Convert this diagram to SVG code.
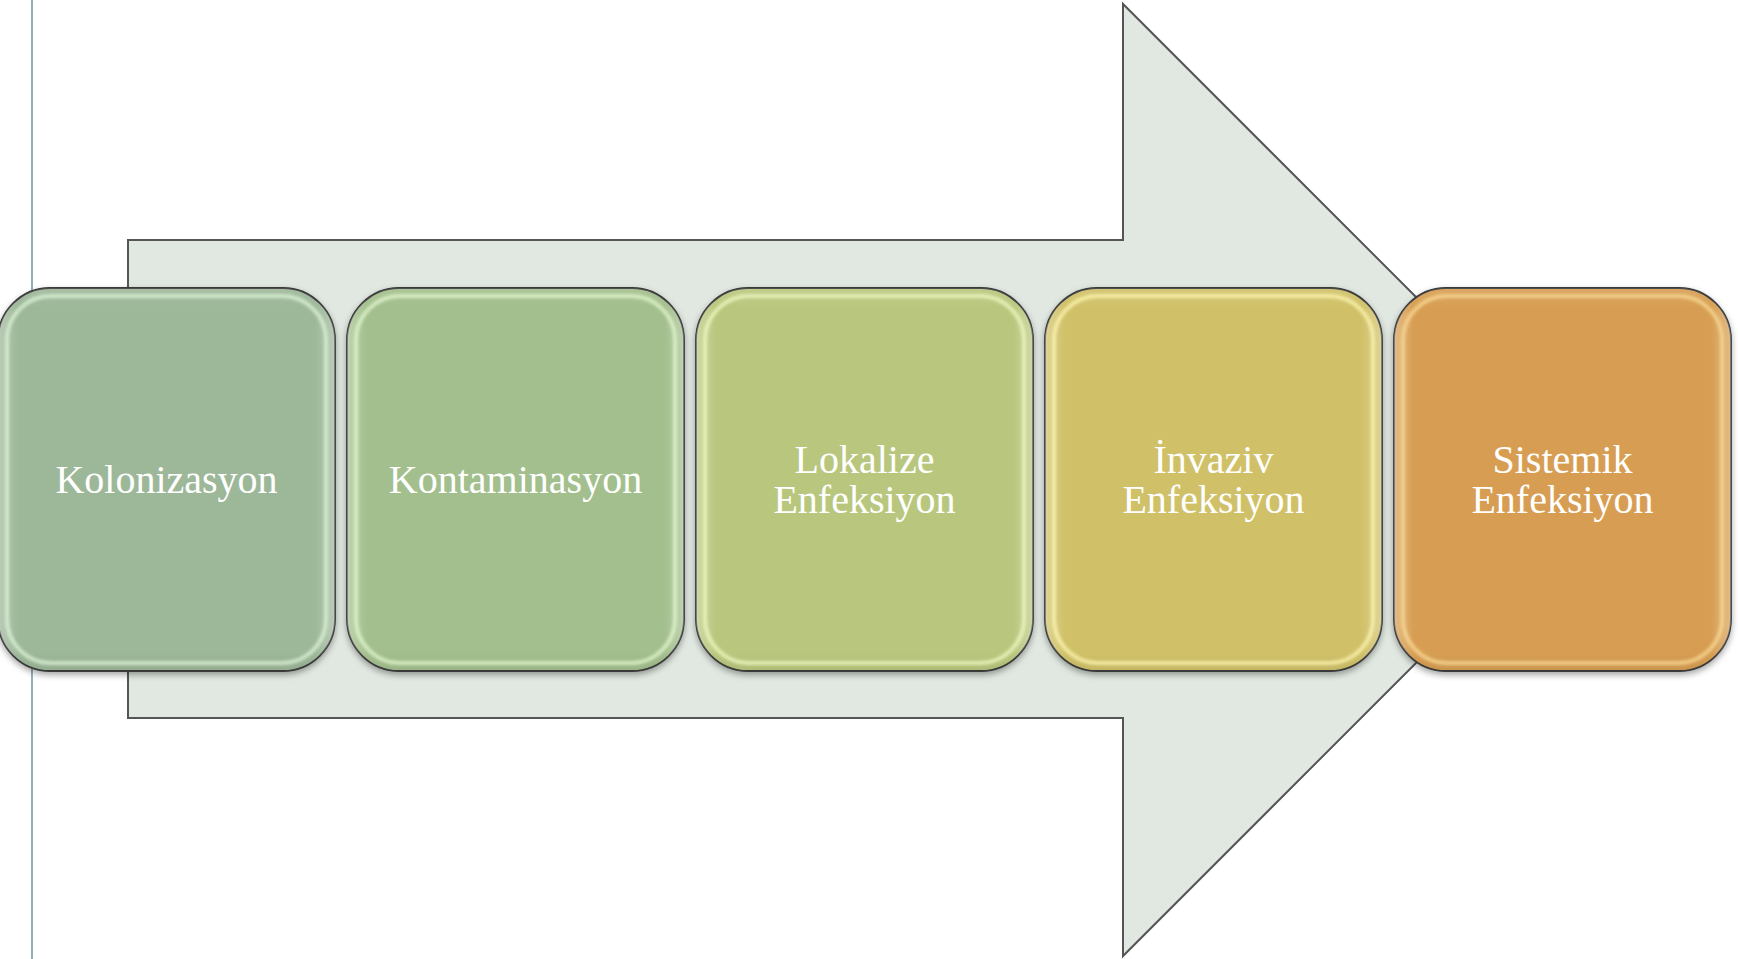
<svg xmlns="http://www.w3.org/2000/svg" width="1738" height="959" viewBox="0 0 1738 959">
<style>
.box{stroke:#3a3a3a;stroke-width:1.8}
.hl{fill:none;stroke-width:4;opacity:0.75}
.lbl{font-family:"Liberation Serif","Times New Roman",serif;font-size:40px;fill:#ffffff;text-anchor:middle}
</style>
<defs>
<filter id="sh" x="-5%" y="-5%" width="110%" height="112%">
<feDropShadow dx="0" dy="3" stdDeviation="3" flood-color="#000" flood-opacity="0.35"/>
</filter>
<filter id="bl" x="-5%" y="-5%" width="110%" height="110%">
<feGaussianBlur stdDeviation="1.5"/>
</filter>
<linearGradient id="gl" x1="0" y1="0" x2="1" y2="0">
<stop offset="0" stop-color="#fff" stop-opacity="0.3"/>
<stop offset="0.06" stop-color="#fff" stop-opacity="0"/>
<stop offset="0.94" stop-color="#fff" stop-opacity="0"/>
<stop offset="1" stop-color="#fff" stop-opacity="0.3"/>
</linearGradient>
<linearGradient id="gv" x1="0" y1="0" x2="0" y2="1">
<stop offset="0" stop-color="#fff" stop-opacity="0.1"/>
<stop offset="0.05" stop-color="#fff" stop-opacity="0"/>
<stop offset="0.95" stop-color="#000" stop-opacity="0"/>
<stop offset="1" stop-color="#000" stop-opacity="0.06"/>
</linearGradient>
</defs>
<rect width="1738" height="959" fill="#ffffff"/>
<line x1="32" y1="0" x2="32" y2="959" stroke="#6a99a2" stroke-width="1.5"/>
<g id="connectors">
<polygon id="arrow" points="128,240 1123,240 1123,4 1599,480 1123,956 1123,718 128,718" fill="#e1e8e1" stroke="#555555" stroke-width="2"/>
</g>
<g id="node1">
<rect class="box" x="-2" y="288" width="337" height="383" rx="52" fill="#9db799" filter="url(#sh)"/>
<rect x="-2" y="288" width="337" height="383" rx="52" fill="url(#gl)"/>
<rect x="-2" y="288" width="337" height="383" rx="52" fill="url(#gv)"/>
<rect class="hl" x="7" y="296" width="319" height="367" rx="44" stroke="#dff5d8" filter="url(#bl)"/>
<text class="lbl" x="166.5" y="493">Kolonizasyon</text>
</g>
<g id="node2">
<rect class="box" x="347" y="288" width="337" height="383" rx="52" fill="#a3bf8d" filter="url(#sh)"/>
<rect x="347" y="288" width="337" height="383" rx="52" fill="url(#gl)"/>
<rect x="347" y="288" width="337" height="383" rx="52" fill="url(#gv)"/>
<rect class="hl" x="356" y="296" width="319" height="367" rx="44" stroke="#e4f8d0" filter="url(#bl)"/>
<text class="lbl" x="515.5" y="493">Kontaminasyon</text>
</g>
<g id="node3">
<rect class="box" x="696" y="288" width="337" height="383" rx="52" fill="#b9c77e" filter="url(#sh)"/>
<rect x="696" y="288" width="337" height="383" rx="52" fill="url(#gl)"/>
<rect x="696" y="288" width="337" height="383" rx="52" fill="url(#gv)"/>
<rect class="hl" x="705" y="296" width="319" height="367" rx="44" stroke="#f2fac4" filter="url(#bl)"/>
<text class="lbl" x="864.5" y="473"><tspan x="864.5" y="473">Lokalize</tspan><tspan x="864.5" y="513">Enfeksiyon</tspan></text>
</g>
<g id="node4">
<rect class="box" x="1045" y="288" width="337" height="383" rx="52" fill="#d0c169" filter="url(#sh)"/>
<rect x="1045" y="288" width="337" height="383" rx="52" fill="url(#gl)"/>
<rect x="1045" y="288" width="337" height="383" rx="52" fill="url(#gv)"/>
<rect class="hl" x="1054" y="296" width="319" height="367" rx="44" stroke="#fff8b4" filter="url(#bl)"/>
<text class="lbl" x="1213.5" y="473"><tspan x="1213.5" y="473">İnvaziv</tspan><tspan x="1213.5" y="513">Enfeksiyon</tspan></text>
</g>
<g id="node5">
<rect class="box" x="1394" y="288" width="337" height="383" rx="52" fill="#d79e53" filter="url(#sh)"/>
<rect x="1394" y="288" width="337" height="383" rx="52" fill="url(#gl)"/>
<rect x="1394" y="288" width="337" height="383" rx="52" fill="url(#gv)"/>
<rect class="hl" x="1403" y="296" width="319" height="367" rx="44" stroke="#fbdc98" filter="url(#bl)"/>
<text class="lbl" x="1562.5" y="473"><tspan x="1562.5" y="473">Sistemik</tspan><tspan x="1562.5" y="513">Enfeksiyon</tspan></text>
</g>
</svg>
